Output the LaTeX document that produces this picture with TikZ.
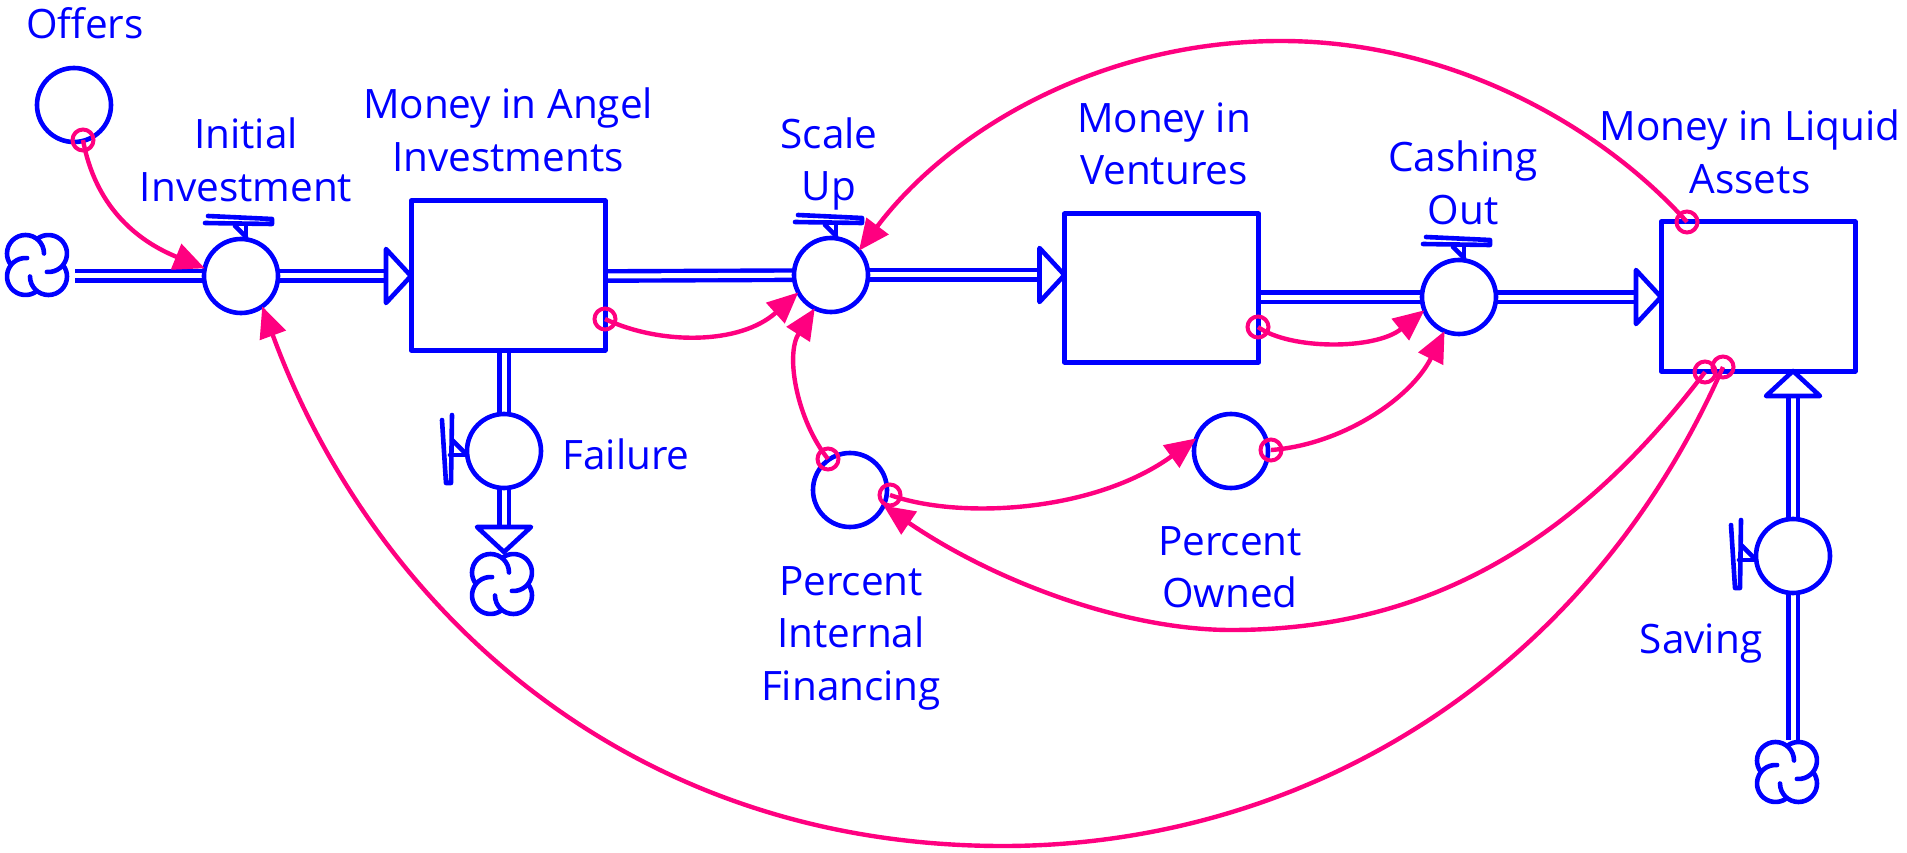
\documentclass[tikz,border=0pt]{standalone}
\usepackage{fontspec}
\setmainfont{Open Sans}
\usepackage{xcolor}
\usetikzlibrary{backgrounds}
\usetikzlibrary{arrows.meta}
\definecolor{myblue}{RGB}{0,0,255}
\definecolor{mypink}{RGB}{255,0,128}

\tikzset{
    stock/.style={draw=myblue, line width=5pt, rectangle, line join=round, minimum width=194pt, inner sep=0pt, outer sep=0pt},
    valve/.style={draw=myblue, fill=white, line width=4.6pt, circle, minimum size=74pt, inner sep=0pt, outer sep=0pt},
    cloudspot/.style={minimum width=66pt, minimum height=64pt, inner sep=0pt, outer sep=0pt},
    tag/.style={text=myblue, align=center, inner sep=0pt, font=\fontsize{40.5}{52.5}\selectfont},
    dot/.style={draw=mypink, line width=4pt, circle, minimum size=21pt, inner sep=0pt, outer sep=0pt},
    pipe/.style={draw=myblue, line width=4.4pt, double=white, double distance=5pt},
    link/.style={draw=mypink, line width=4.4pt, -{Triangle[length=31pt,width=27pt]}},
    stroke/.style={draw=myblue, line width=4.6pt, line cap=round, line join=round},
    puff/.pic={
            \draw[stroke] (7,11.5) arc[start angle=0, end angle=215, radius=18.5pt];
            \draw[stroke] ([shift={(85:18.5pt)}]-11.5,-11.5) arc[start angle=85, end angle=305, radius=18.5pt];
            \draw[stroke] (-7,-11.5) arc[start angle=180, end angle=395, radius=18.5pt];
            \draw[stroke] ([shift={(-95:18.5pt)}]11.5,11.5) arc[start angle=-95, end angle=125, radius=18.5pt];
        },
    head/.pic={
            \filldraw[stroke, fill=white] (0,0) -- (-25,27) -- (-25,-27) -- cycle;
        },
    handletop/.pic={
            \draw[stroke] (5,37) -- (5,51);
            \draw[stroke] (5,39) -- (-6,50);
            \draw[stroke] (-33,60) -- (31,57) -- (31,52) -- (-36,53);
        },
    handleleft/.pic={
            \draw[stroke] (-37,-4) -- (-54,-4);
            \draw[stroke] (-37,-4) -- (-52,11);
            \draw[stroke] (-62,31) -- (-58,-32) -- (-53,-32) -- (-52,36);
        },
}

\begin{document}
\begin{tikzpicture}[x=1pt,y=1pt]

    \useasboundingbox (0,0) rectangle (1907,-853);

    % stocks
    \node[stock, minimum height=149pt] (sa) at (508,-275.5) {};
    \node[stock, minimum height=148pt] (sv) at (1161.5,-288) {};
    \node[stock, minimum height=149pt] (sl) at (1758,-296.5) {};

    % flows
    \node[valve] (vi) at (241,-276) {};
    \node[valve] (vs) at (831,-275) {};
    \node[valve] (vc) at (1459,-297) {};
    \node[valve] (vf) at (504,-451) {};
    \node[valve] (vm) at (1793,-556) {};

    % clouds
    \node[cloudspot] (ci) at (37,-265) {};
    \node[cloudspot] (cf) at (502,-584) {};
    \node[cloudspot] (cm) at (1787,-772) {};
    \pic at (ci) {puff};
    \pic at (cf) {puff};
    \pic at (cm) {puff};

    % converters
    \node[valve] (offers) at (74,-105) {};
    \node[valve] (pif) at (850,-490) {};
    \node[valve] (pown) at (1231,-451) {};

    % ------------------

    \begin{pgfonlayer}{background}
        \draw[pipe] ([yshift=-11pt]ci.east) ++(5,0) -- (vi);
        \draw[pipe] (vi) -- ([xshift=-20pt]vi -| sa.west);
        \draw[pipe] (vi -| sa.east) -- (vs);
        \draw[pipe] (vs) -- ([xshift=-20pt]vs -| sv.west);
        \draw[pipe] (vc -| sv.east) -- (vc);
        \draw[pipe] (vc) -- ([xshift=-20pt]vc -| sl.west);
        \draw[pipe] (vf |- sa.south) -- (vf);
        \draw[pipe] (vf.south) -- ([yshift=-42pt]vf.south);
        \draw[pipe] (vm.north) -- ([yshift=124pt]vm.north);
        \draw[pipe] (vm) -- (vm |- cm.north);
    \end{pgfonlayer}

    \pic at (vi -| sa.west) {head};
    \pic at (vs -| sv.west) {head};
    \pic at (vc -| sl.west) {head};
    \pic[rotate=-90] at ([yshift=-64pt]vf.south) {head};
    \pic[rotate=90] at (vm |- sl.south) {head};

    \pic at (vi) {handletop};
    \pic at (vs) {handletop};
    \pic at (vc) {handletop};
    \pic at (vf) {handleleft};
    \pic at (vm) {handleleft};

    % ------------------

    \node[tag] (toffers) at (85,-23) {Offers};
    \node[tag] (tvi) at (246,-160) {Initial\\Investment};
    \node[tag] (tsa) at (508,-130) {Money in Angel\\Investments};
    \node[tag] (tvs) at (829,-164) {Scale\\Up};
    \node[tag] (tsv) at (1164,-144) {Money in\\Ventures};
    \node[tag] (tvc) at (1463,-183) {Cashing\\Out};
    \node[tag] (tsl) at (1750,-152) {Money in Liquid\\Assets};
    \node[tag] (tvf) at (626,-454) {Failure};
    \node[tag] (tpif) at (851,-638) {Percent\\Internal\\Financing};
    \node[tag] (tpown) at (1230,-567) {Percent\\Owned};
    \node[tag] (tvm) at (1701,-643) {Saving};

    % ------------------

    % information links
    \node[dot] (doffers) at (83,-140) {};
    \node[dot] (dsa) at (605,-319) {};
    \node[dot] (dpia) at (828,-459) {};
    \node[dot] (dpib) at (890,-495) {};
    \node[dot] (dsv) at (1258,-327) {};
    \node[dot] (dpown) at (1271,-450) {};
    \node[dot] (dla) at (1705,-372) {};
    \node[dot] (dlb) at (1723,-367) {};
    \node[dot] (dlc) at (1687,-222) {};

    \path[link] (doffers.center) .. controls (95,-205) and (135,-240) .. (vi.168);
    \path[link] (dsa.center) .. controls (660,-345) and (740,-345) .. (vs.208);
    \path[link] (dpia.center) .. controls (797,-420) and (785,-355) .. (vs.244);
    \path[link] (dsv.center) .. controls (1290,-350) and (1375,-350) .. (vc.201);
    \path[link] (dpown.center) .. controls (1340,-445) and (1410,-400) .. (vc.247);
    \path[link] (dpib.center) .. controls (960,-520) and (1095,-512) .. (pown.160);
    \path[link] (dla.center) .. controls (1570,-550) and (1420,-630) .. (1231,-630)
    .. controls (1130,-630) and (1000,-585) .. (pif.-25);
    \path[link] (dlb.center) .. controls (1580,-690) and (1290,-846) .. (1003,-846)
    .. controls (620,-846) and (370,-600) .. (vi.-55);
    \path[link] (dlc.center) .. controls (1600,-125) and (1450,-41) .. (1281,-41)
    .. controls (1100,-41) and (950,-130) .. (vs.41);

\end{tikzpicture}
\end{document}
